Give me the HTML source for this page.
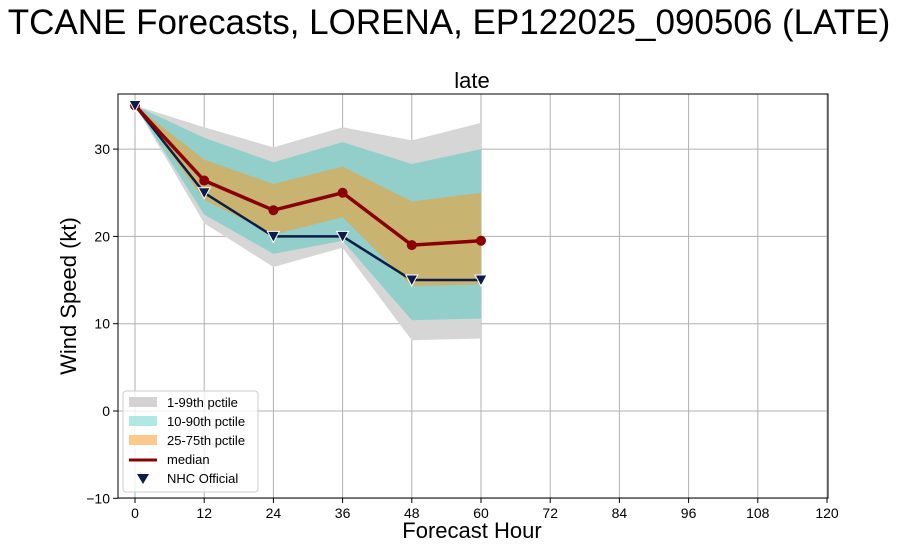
<!DOCTYPE html>
<html><head><meta charset="utf-8"><style>
body{margin:0;background:#fff;}
svg text{font-family:"Liberation Sans","DejaVu Sans",sans-serif;}
</style></head><body>
<svg id="chart" width="900" height="548" xmlns="http://www.w3.org/2000/svg">
<text x="449" y="34" font-size="35" text-anchor="middle">TCANE Forecasts, LORENA, EP122025_090506 (LATE)</text>
<text x="472" y="88" font-size="22" text-anchor="middle">late</text>
<g id="grid"></g>
<g id="bands"></g>
<g id="lines"></g>
<rect x="118" y="94" width="710" height="404" fill="none" stroke="#000" stroke-width="1"/>
<g id="ticks"></g>
<text x="472" y="538" font-size="22" text-anchor="middle">Forecast Hour</text>
<text transform="translate(76,296) rotate(-90)" font-size="22" text-anchor="middle">Wind Speed (kt)</text>
<g>
<rect x="123" y="391" width="135" height="101" rx="3" fill="#fff" fill-opacity="0.8" stroke="#ccc"/>
<rect x="129" y="397" width="28" height="10" fill="#d3d3d3"/>
<text x="167" y="407" font-size="13">1-99th pctile</text>
<rect x="129" y="416" width="28" height="10" fill="#aeeae3"/>
<text x="167" y="426" font-size="13">10-90th pctile</text>
<rect x="129" y="435" width="28" height="10" fill="#fdc98a"/>
<text x="167" y="445" font-size="13">25-75th pctile</text>
<line x1="129" y1="460" x2="157" y2="460" stroke="#8b0000" stroke-width="3"/>
<text x="167" y="464" font-size="13">median</text>
<path d="M137,474 L149,474 L143,484 Z" fill="#0b1d48"/>
<text x="167" y="483" font-size="13">NHC Official</text>
</g>
</svg>
<script>
const hours=[0,12,24,36,48,60];
const p01=[35,21.5,16.5,18.7,8.1,8.3];
const p99=[35,32.5,30.2,32.5,31,33];
const p10=[35,22.5,18,19.5,10.4,10.6];
const p90=[35,31.3,28.5,30.8,28.3,30];
const p25=[35,24.2,20.2,22.2,14.3,14.5];
const p75=[35,28.8,26,28,24,25];
const median=[35,26.4,23,25,19,19.5];
const nhc=[35,25,20,20,15,15];
const xTicks=[0,12,24,36,48,60,72,84,96,108,120];
const yTicks=[-10,0,10,20,30];
const NS='http://www.w3.org/2000/svg';
const X=h=>135+h*(827-135)/120;
const Y=v=>411-v*8.73;
function mk(t,a,p){const e=document.createElementNS(NS,t);for(const k in a)e.setAttribute(k,a[k]);document.getElementById(p).appendChild(e);return e;}
xTicks.forEach(t=>{
 const g=mk('line',{x1:X(t),x2:X(t),y1:94,y2:498,stroke:'#b0b0b0','stroke-width':1},'grid');
 
 
 mk('line',{x1:X(t),x2:X(t),y1:498,y2:503,stroke:'#000'},'ticks');
 const l=mk('text',{x:X(t),y:518,'font-size':14,'text-anchor':'middle'},'ticks');l.textContent=t;
 
 
});
yTicks.forEach(t=>{
 const g=mk('line',{x1:118,x2:828,y1:Y(t),y2:Y(t),stroke:'#b0b0b0','stroke-width':1},'grid');
 
 
 mk('line',{x1:113,x2:118,y1:Y(t),y2:Y(t),stroke:'#000'},'ticks');
 const l=mk('text',{x:110,y:Y(t)+5,'font-size':14,'text-anchor':'end'},'ticks');l.textContent=t===-10?'\u221210':t;
 
 
});
function band(lo,hi,fill,name){
 let d='M'+hours.map((h,i)=>X(h)+','+Y(hi[i])).join('L');
 d+='L'+hours.map((h,i)=>X(h)+','+Y(lo[i])).reverse().join('L')+'Z';
 const e=mk('path',{d:d,fill:fill},'bands');
 
 
}
band(p01,p99,'#d6d6d6','band-1-99');
band(p10,p90,'#93cfca','band-10-90');
band(p25,p75,'#c8b370','band-25-75');
const pts=a=>hours.map((h,i)=>X(h)+','+Y(a[i])).join(' ');
const nl=mk('polyline',{points:pts(nhc),fill:'none',stroke:'#0b1d48','stroke-width':2.5},'lines');


const ml=mk('polyline',{points:pts(median),fill:'none',stroke:'#8b0000','stroke-width':3.5},'lines');


hours.forEach((h,i)=>{
 const c=mk('circle',{cx:X(h),cy:Y(median[i]),r:5,fill:'#8b0000'},'lines');
 
 
});
hours.forEach((h,i)=>{
 const x=X(h),y=Y(nhc[i]);
 const m=mk('path',{d:`M${x-6},${y-5} L${x+6},${y-5} L${x},${y+6} Z`,fill:'#0b1d48',stroke:'#fff','stroke-width':1},'lines');
 
 
});
</script>
</body></html>
